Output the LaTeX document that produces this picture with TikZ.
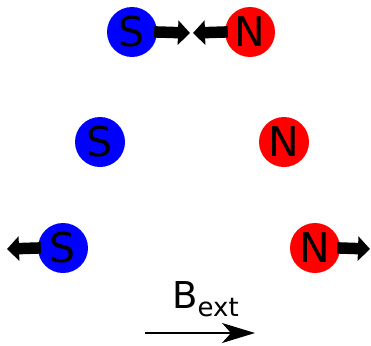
\documentclass[tikz,border=0pt]{standalone}
\usepackage{fontspec}
\setmainfont{DejaVu Sans}
\usetikzlibrary{arrows.meta}
\begin{document}
\begin{tikzpicture}[x=1pt,y=-1pt,
  pole/.style={circle,minimum size=50pt,inner sep=0pt,font=\fontsize{41}{44}\selectfont},
  south/.style={pole,fill={rgb,255:red,0;green,0;blue,255}},
  north/.style={pole,fill={rgb,255:red,255;green,0;blue,0}},
  force/.style={line width=11.5pt,-{Triangle[length=12pt,width=24pt]},shorten <=-3pt}]
\useasboundingbox (0,0) rectangle (371,345);
% top pair
\node[south] (s1) at (132,32) {S};
\node[north] (n1) at (250,32) {N};
\coordinate (s1t) at (190,33);
\coordinate (n1t) at (193,33);
\draw[force] (s1.east) -- (s1t);
\draw[force] (n1.west) -- (n1t);
% middle pair
\node[south] (s2) at (100,142) {S};
\node[north] (n2) at (284,142) {N};
% bottom pair
\node[south] (s3) at (63,248) {S};
\node[north] (n3) at (315,248) {N};
\coordinate (s3t) at (7,249);
\coordinate (n3t) at (370,249);
\draw[force] (s3.west) -- (s3t);
\draw[force] (n3.east) -- (n3t);
% external field
\coordinate (b0) at (145,333);
\coordinate (b1) at (255,333);
\draw[line width=1.8pt,-{Stealth[length=33pt,width=20pt,inset=9pt]}] (b0) -- (b1);
\node[anchor=base west,inner sep=0pt] (bext) at (172,308.5)
  {\fontsize{37}{40}\selectfont B\raisebox{-8pt}{\fontsize{26}{29}\selectfont ext}};
\end{tikzpicture}
\end{document}
